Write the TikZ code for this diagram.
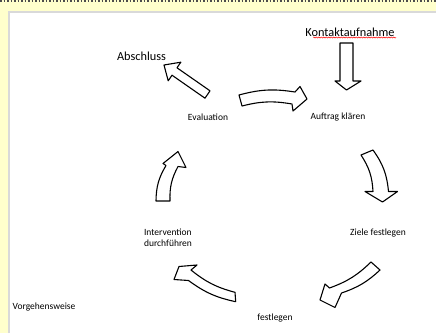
\documentclass[tikz,border=0pt]{standalone}
\usepackage{fontspec}
\setmainfont{Carlito}
\usetikzlibrary{decorations.pathmorphing}
\definecolor{pagebg}{RGB}{255,255,204}

\begin{document}
\begin{tikzpicture}[x=1pt,y=-1pt]
\tikzset{small/.style={font=\fontsize{9.5}{11}\selectfont, inner sep=0pt},
         big/.style={font=\fontsize{12.3}{14}\selectfont, inner sep=0pt},
         blk/.style={draw, fill=white, line width=1.1pt, line join=round}};
   \useasboundingbox (0,0) rectangle (436,333);
   \fill[pagebg] (0,0) rectangle (436,333);
   \draw[black!70, dotted, line width=1.5pt] (0,1) -- (436,1);
   \fill[white] (8,11) rectangle (436,333);
   \draw[black!15, line width=1.5pt] (9,333) -- (9,12) -- (436,12);

   \node[big] (kontakt) at (350,32) {Kontaktaufnahme};
   \draw[red, line width=0.5pt, decorate, decoration={snake, amplitude=0.6pt, segment length=2.5pt}]
      (313,37.5) -- (396,37.5);
   \node[big] (abschluss) at (141.5,56) {Abschluss};
   \node[small] (eval) at (208,117) {Evaluation};
   \node[small] (auftrag) at (338,117) {Auftrag klären};
   \node[small] (ziele) at (378,233) {Ziele festlegen};
   \node[small, align=left] (interv) at (168,237.5) {Intervention\\durchführen};
   \node[small] (festl) at (275,318) {festlegen};
   \node[small] (vorgehen) at (44,307) {Vorgehensweise};

   % Kontaktaufnahme -> Auftrag
   \draw[blk] (340,43) -- (353,43) -- (353,81) -- (361,81) -- (346.5,90) -- (335,81) -- (340,81) -- cycle;
   % Evaluation -> Abschluss
   \draw[blk] (210,90.8) -- (177,67.8) -- (180.8,62.2) -- (164,65) -- (168.2,80.8) -- (172,75.2) -- (205,98.2) -- cycle;
   % cycle
   \draw[blk] (239,95) to[bend left=12] (295,92) -- (300,86.5) -- (307,99) -- (293,111) -- (292,104)
      to[bend right=12] (242,106) -- cycle;
   \draw[blk] (361,155) to[bend left=15] (373,191.5) -- (365,191.5) -- (382.5,202) -- (397.5,191.5)
      -- (388.5,191.5) to[bend right=15] (373,150) -- cycle;
   \draw[blk] (380,270) to[bend left=12] (341.5,293) -- (335,307.5) -- (320,300) -- (325,284)
      -- (329.5,288) to[bend right=12] (371,262) -- cycle;
   \draw[blk] (235.7,301.7) to[bend left=12] (188.5,280.5) -- (174,279.5) -- (179,266.5) -- (197,265)
      -- (191,270) to[bend right=12] (235,292.3) -- cycle;
   \draw[blk] (156,201) to[bend left=15] (166,165.5) -- (163,163.5) -- (178,151.5) -- (186,167.5)
      -- (178,166.5) to[bend right=15] (170,201) -- cycle;
\end{tikzpicture}
\end{document}
